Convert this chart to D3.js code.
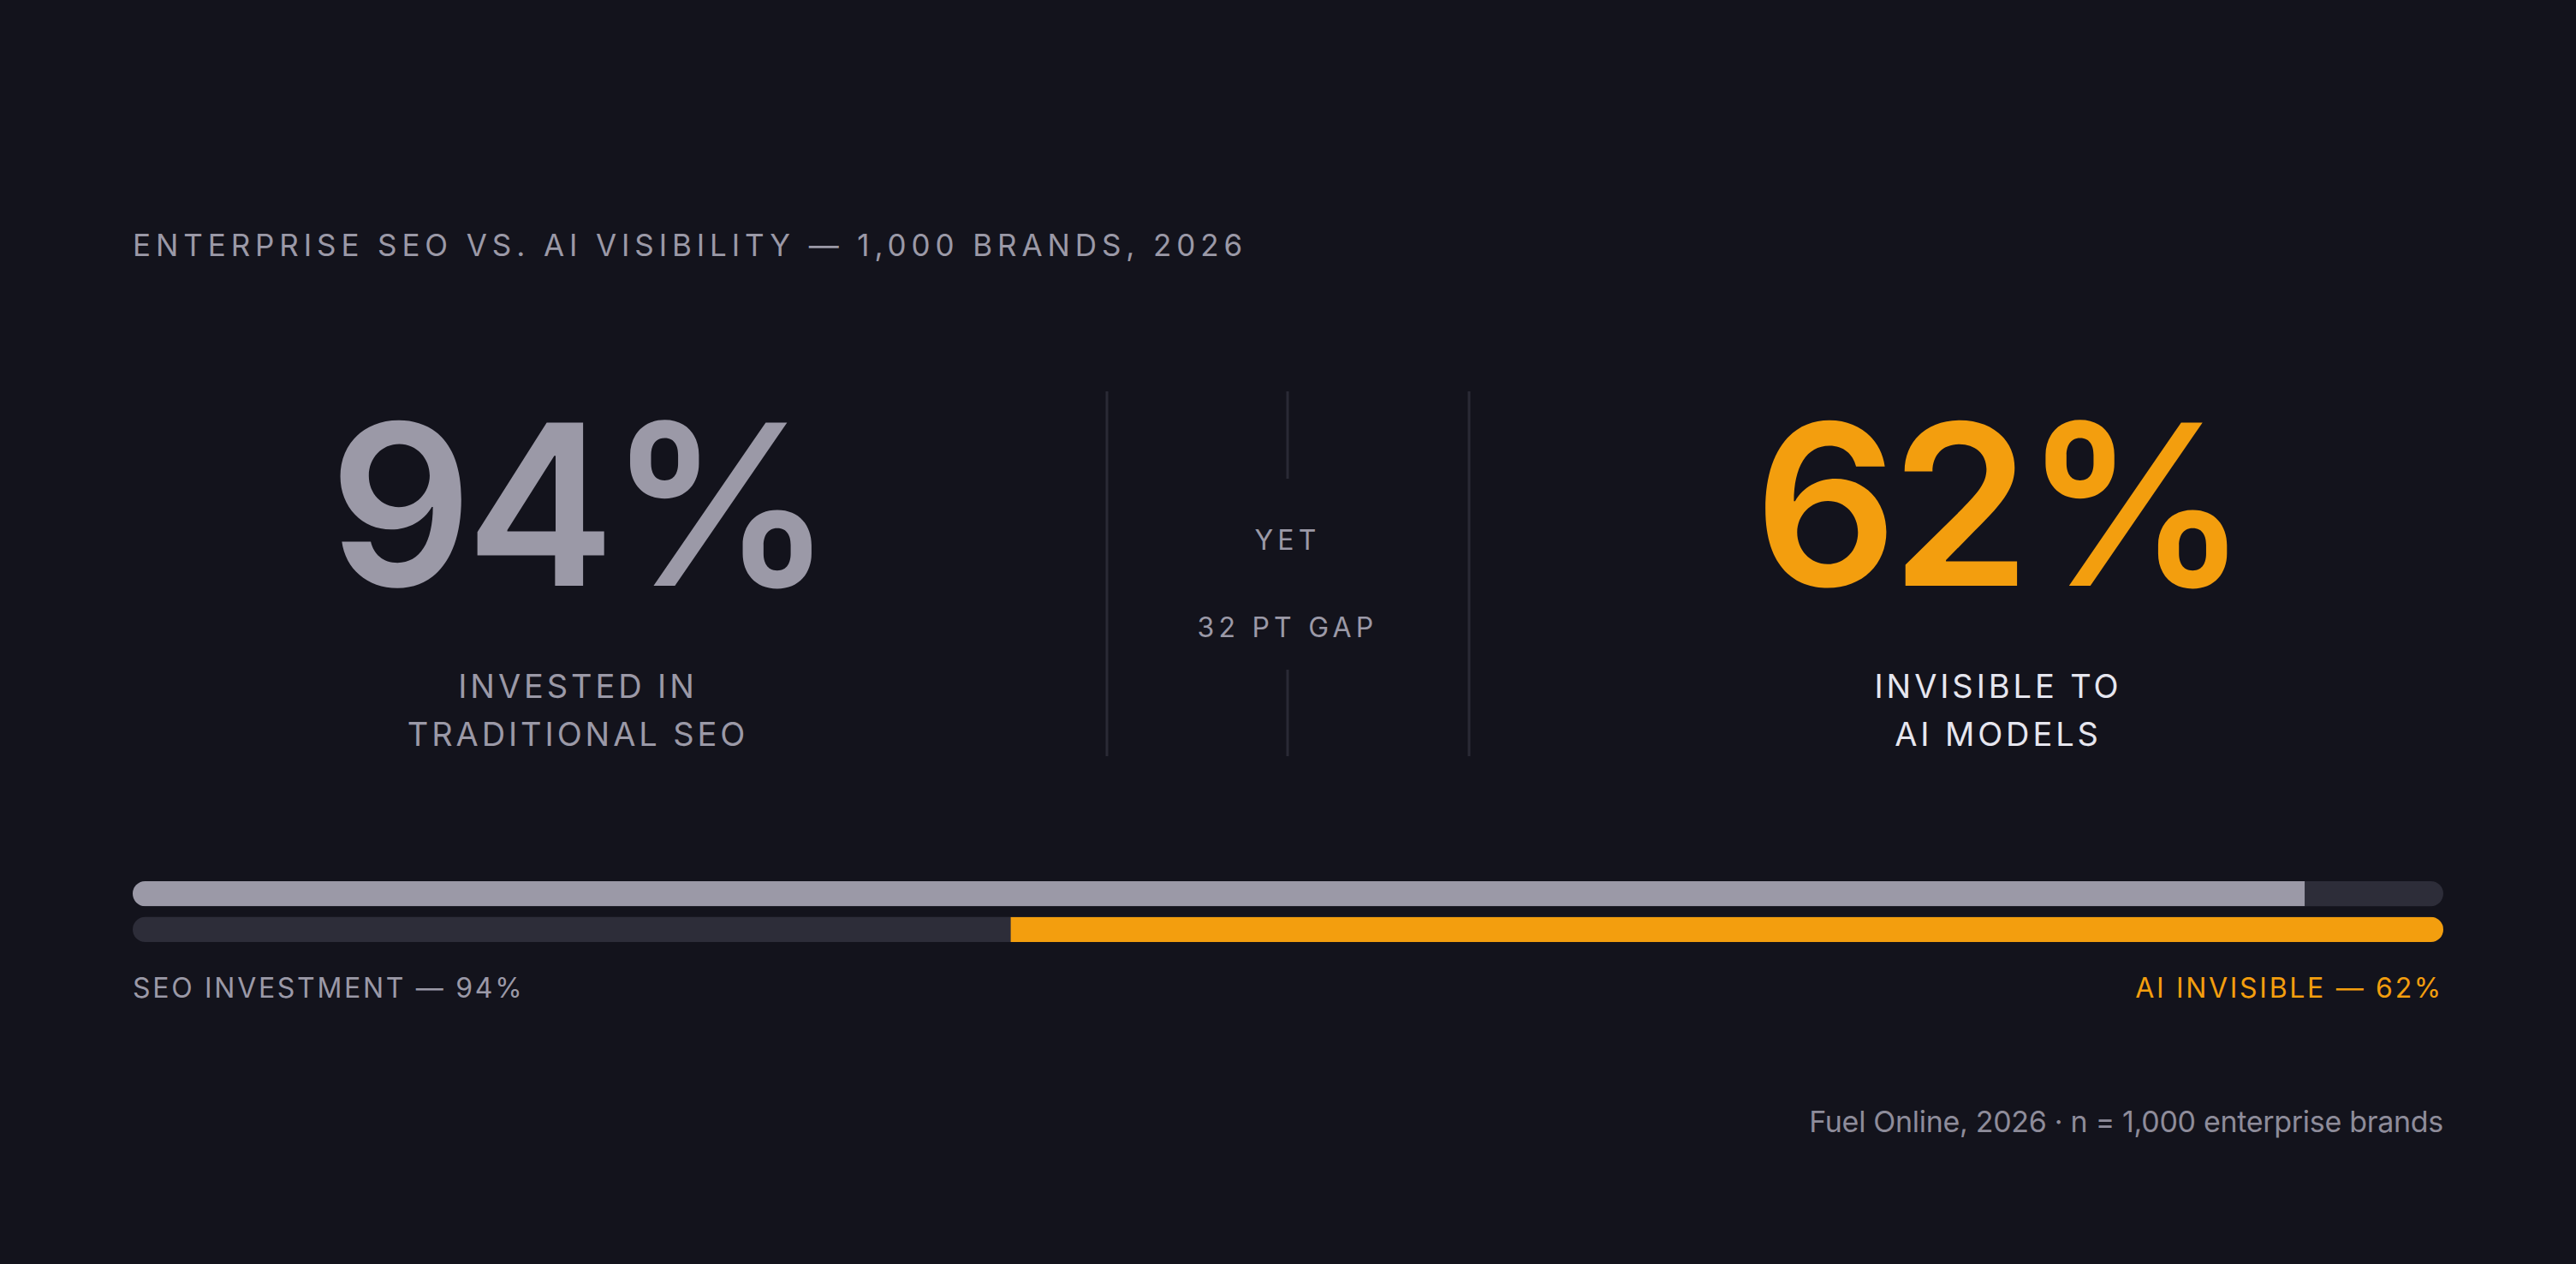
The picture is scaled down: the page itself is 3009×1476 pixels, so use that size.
<!DOCTYPE html>
<html>
<head>
<meta charset="utf-8">
<script src="https://cdn.jsdelivr.net/npm/d3@7"></script>
<style>
  html, body { margin: 0; padding: 0; background: #13131c; }
  svg { display: block; font-family: Inter, "Noto Sans", sans-serif; }
</style>
</head>
<body>
<div id="chart"></div>
<script>
// values
var titleText = "ENTERPRISE SEO VS. AI VISIBILITY \u2014 1,000 BRANDS, 2026";
var statValues = [94, 62];
var statLabels = [["INVESTED IN", "TRADITIONAL SEO"], ["INVISIBLE TO", "AI MODELS"]];
var middleLabels = ["YET", "32 PT GAP"];
var barNames = ["seo", "ai"];
var barValues = [94, 62];
var barLabels = ["SEO INVESTMENT \u2014 94%", "AI INVISIBLE \u2014 62%"];
var sourceText = "Fuel Online, 2026 \u00b7 n = 1,000 enterprise brands";

var width = 3009;
var height = 1476;
var left = 155;
var right = 2854;

var colGray = "#9b99a7";
var colOrange = "#f39e0e";
var colTrack = "#2d2d39";
var colRule = "#2a2a35";
var colWhite = "#e6e6ef";

var svg = d3.select("#chart")
    .append("svg")
    .attr("width", width)
    .attr("height", height);

svg.append("rect")
    .attr("width", width)
    .attr("height", height)
    .attr("fill", "#13131c");

// title
svg.append("text")
    .attr("x", left)
    .attr("y", 299)
    .attr("fill", colGray)
    .attr("font-size", 35)
    .attr("letter-spacing", 5.9)
    .text(titleText);

// big numbers
var colCenters = [675, 2334];
var statColors = [colGray, colOrange];
var labelColors = [colGray, colWhite];

svg.selectAll("text.stat")
    .data(statValues)
    .enter()
    .append("text")
    .attr("class", "stat")
    .attr("x", (d, i) => colCenters[i])
    .attr("y", 684)
    .attr("text-anchor", "middle")
    .attr("font-size", 262)
    .attr("font-weight", 600)
    .attr("letter-spacing", -8)
    .attr("fill", (d, i) => statColors[i])
    .text((d) => d + "%");

statLabels.forEach(function(lines, i) {
    svg.selectAll(null)
        .data(lines)
        .enter()
        .append("text")
        .attr("x", colCenters[i])
        .attr("y", (d, j) => 815 + j * 56)
        .attr("text-anchor", "middle")
        .attr("font-size", 38)
        .attr("letter-spacing", 3.9)
        .attr("fill", labelColors[i])
        .text((d) => d);
});

// dividers
svg.selectAll("line.side")
    .data([1293, 1716])
    .enter()
    .append("line")
    .attr("x1", (d) => d)
    .attr("x2", (d) => d)
    .attr("y1", 457)
    .attr("y2", 883)
    .attr("stroke", colRule)
    .attr("stroke-width", 3);

svg.selectAll("line.mid")
    .data([[457, 559], [782, 883]])
    .enter()
    .append("line")
    .attr("x1", 1504)
    .attr("x2", 1504)
    .attr("y1", (d) => d[0])
    .attr("y2", (d) => d[1])
    .attr("stroke", colRule)
    .attr("stroke-width", 3);

svg.selectAll("text.mid")
    .data(middleLabels)
    .enter()
    .append("text")
    .attr("x", 1504)
    .attr("y", (d, i) => 642 + i * 102)
    .attr("text-anchor", "middle")
    .attr("font-size", 32)
    .attr("letter-spacing", 5.2)
    .attr("fill", colGray)
    .text((d) => d);

// bars
var xScale = d3.scaleLinear().domain([0, 100]).range([left, right]);
var yScale = d3.scaleBand().domain(barNames).range([1029, 1100]).paddingInner(0.3);
var barH = yScale.bandwidth();

var defs = svg.append("defs");
barNames.forEach(function(name) {
    defs.append("clipPath")
        .attr("id", "clip-" + name)
        .append("rect")
        .attr("x", xScale(0))
        .attr("y", yScale(name))
        .attr("width", xScale(100) - xScale(0))
        .attr("height", barH)
        .attr("rx", barH / 2);
});

svg.selectAll("rect.track")
    .data(barNames)
    .enter()
    .append("rect")
    .attr("class", "track")
    .attr("x", xScale(0))
    .attr("y", (d) => yScale(d))
    .attr("width", xScale(100) - xScale(0))
    .attr("height", barH)
    .attr("rx", barH / 2)
    .attr("fill", colTrack);

// seo fills from the left, ai fills from the right
svg.selectAll("rect.fill")
    .data(barNames)
    .enter()
    .append("rect")
    .attr("class", "fill")
    .attr("clip-path", (d) => "url(#clip-" + d + ")")
    .attr("x", (d, i) => i === 0 ? xScale(0) : xScale(100 - barValues[i]))
    .attr("y", (d) => yScale(d))
    .attr("width", (d, i) => xScale(barValues[i]) - xScale(0))
    .attr("height", barH)
    .attr("fill", (d, i) => i === 0 ? colGray : colOrange);

svg.selectAll("text.barlabel")
    .data(barLabels)
    .enter()
    .append("text")
    .attr("x", (d, i) => i === 0 ? left : right)
    .attr("y", 1165)
    .attr("text-anchor", (d, i) => i === 0 ? "start" : "end")
    .attr("font-size", 32)
    .attr("letter-spacing", 2.7)
    .attr("fill", (d, i) => i === 0 ? colGray : colOrange)
    .text((d) => d);

// source
svg.append("text")
    .attr("x", right)
    .attr("y", 1322)
    .attr("text-anchor", "end")
    .attr("font-size", 34)
    .attr("letter-spacing", -0.3)
    .attr("fill", "#8e8c9a")
    .text(sourceText);
</script>
</body>
</html>
